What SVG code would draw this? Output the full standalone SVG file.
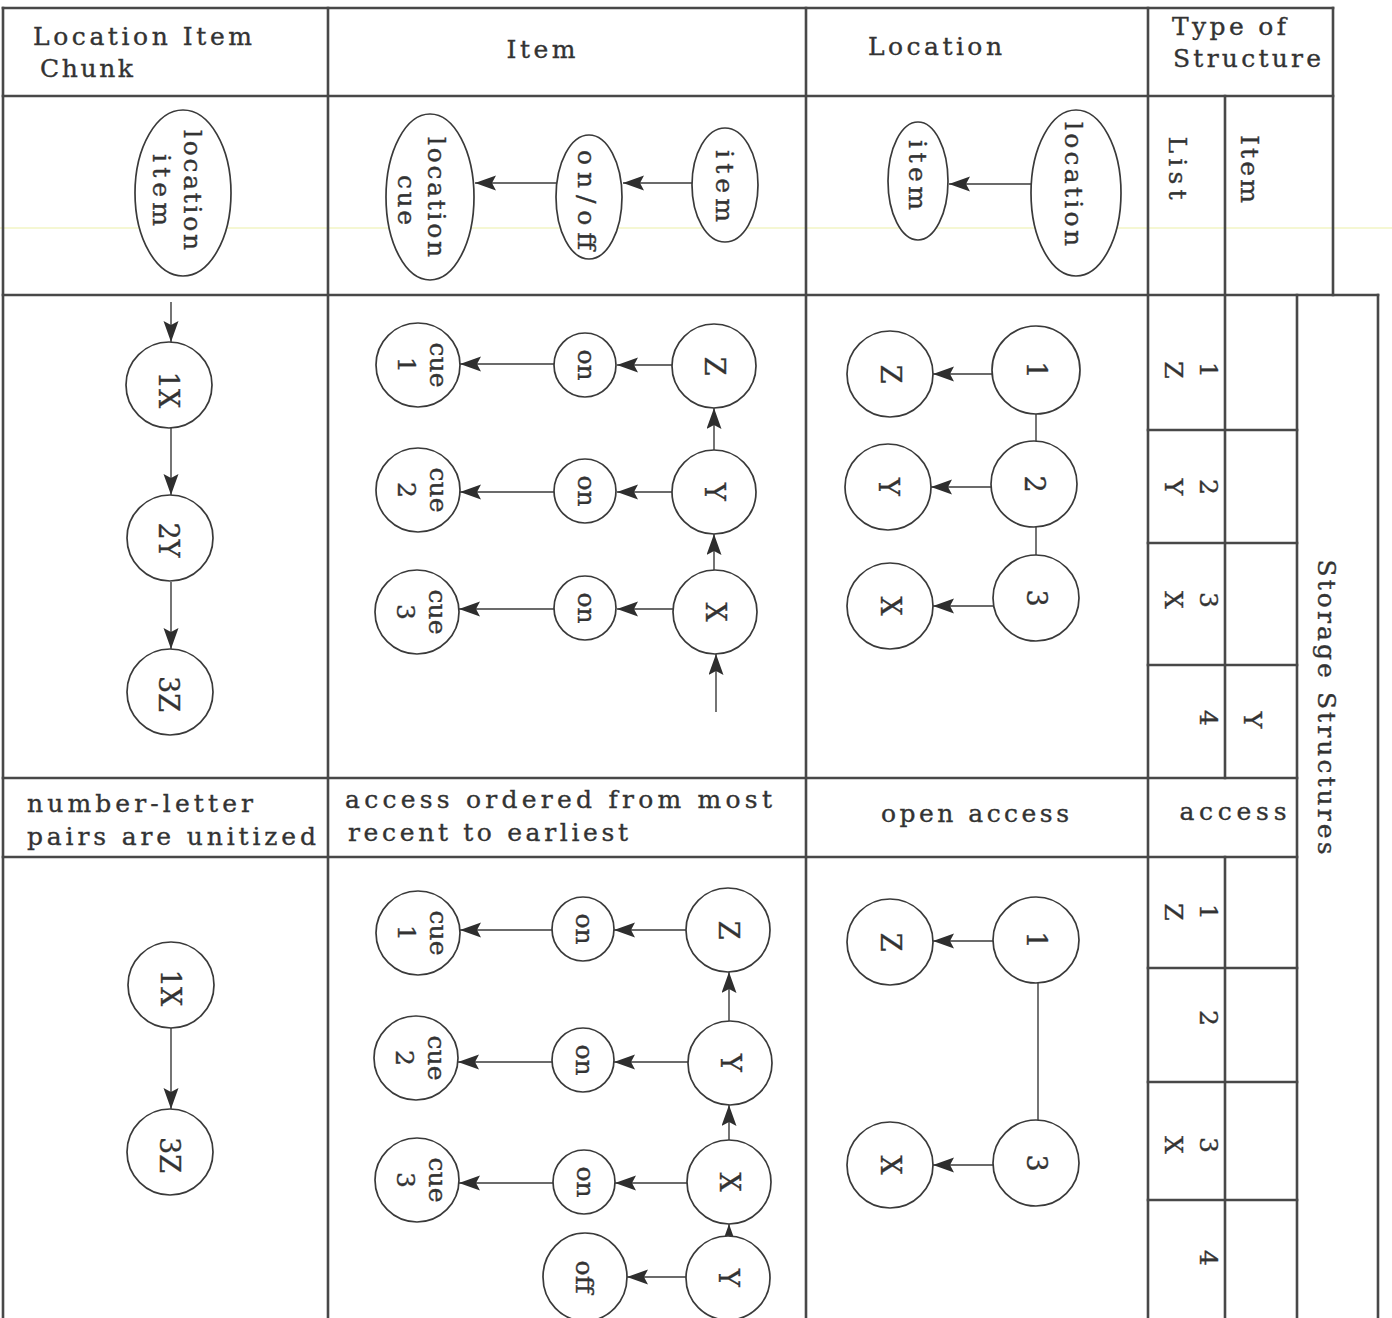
<svg xmlns="http://www.w3.org/2000/svg" width="1392" height="1318" viewBox="0 0 1392 1318">
<style>
.g{stroke:#484848;stroke-width:2.6;fill:none;stroke-linecap:square}
.n{stroke:#3a3a3a;stroke-width:1.7;fill:#fff}
.c{stroke:#3a3a3a;stroke-width:1.4;fill:none}
.a{marker-end:url(#ah)}
text{font-family:"DejaVu Serif","Liberation Serif",serif;font-size:25px;fill:#333;stroke:#333;stroke-width:0.35}
.m{text-anchor:middle}
.b{font-size:27px}
</style>
<defs>
<marker id="ah" markerUnits="userSpaceOnUse" markerWidth="22" markerHeight="16" refX="21" refY="7.5" orient="auto">
<path d="M0,0 L21,7.5 L0,15 L4,7.5 z" fill="#2e2e2e"/>
</marker>
</defs>
<rect width="1392" height="1318" fill="#fff"/>
<line x1="0" y1="228" x2="1392" y2="228" stroke="#f2f4c4" stroke-width="1.5"/>

<g id="grid">
<line class="g" x1="3" y1="8" x2="1333" y2="8"/>
<line class="g" x1="3" y1="96" x2="1333" y2="96"/>
<line class="g" x1="3" y1="295" x2="1378" y2="295"/>
<line class="g" x1="3" y1="778" x2="1297" y2="778"/>
<line class="g" x1="3" y1="857" x2="1297" y2="857"/>
<line class="g" x1="1148" y1="430" x2="1297" y2="430"/>
<line class="g" x1="1148" y1="543" x2="1297" y2="543"/>
<line class="g" x1="1148" y1="665" x2="1297" y2="665"/>
<line class="g" x1="1148" y1="968" x2="1297" y2="968"/>
<line class="g" x1="1148" y1="1082" x2="1297" y2="1082"/>
<line class="g" x1="1148" y1="1200" x2="1297" y2="1200"/>
<line class="g" x1="3" y1="8" x2="3" y2="1318"/>
<line class="g" x1="328" y1="8" x2="328" y2="1318"/>
<line class="g" x1="806" y1="8" x2="806" y2="1318"/>
<line class="g" x1="1148" y1="8" x2="1148" y2="1318"/>
<line class="g" x1="1225" y1="96" x2="1225" y2="778"/>
<line class="g" x1="1225" y1="857" x2="1225" y2="1318"/>
<line class="g" x1="1333" y1="8" x2="1333" y2="295"/>
<line class="g" x1="1297" y1="295" x2="1297" y2="1318"/>
<line class="g" x1="1378" y1="295" x2="1378" y2="1318"/>
</g>

<g id="labels">
<text x="33" y="45" textLength="219" lengthAdjust="spacing">Location Item</text>
<text x="40" y="77" textLength="93" lengthAdjust="spacing">Chunk</text>
<text x="541" y="58" class="m" textLength="69" lengthAdjust="spacing">Item</text>
<text x="935" y="55" class="m" textLength="134" lengthAdjust="spacing">Location</text>
<text x="1172" y="35" textLength="114" lengthAdjust="spacing">Type of</text>
<text x="1173" y="67" textLength="148" lengthAdjust="spacing">Structure</text>
<text transform="translate(1169,168) rotate(90)" class="m" textLength="63" lengthAdjust="spacing">List</text>
<text transform="translate(1241,169) rotate(90)" class="m" textLength="68" lengthAdjust="spacing">Item</text>
<text x="27" y="812" textLength="226" lengthAdjust="spacing">number-letter</text>
<text x="27" y="845" textLength="289" lengthAdjust="spacing">pairs are unitized</text>
<text x="345" y="808" textLength="427" lengthAdjust="spacing">access ordered from most</text>
<text x="348" y="841" textLength="280" lengthAdjust="spacing">recent to earliest</text>
<text x="975" y="822" class="m" textLength="188" lengthAdjust="spacing">open access</text>
<text x="1233" y="820" class="m" textLength="107" lengthAdjust="spacing">access</text>
<text transform="translate(1318,707) rotate(90)" class="m" textLength="295" lengthAdjust="spacing">Storage Structures</text>
<text transform="translate(1200,370) rotate(90)" class="m">1</text>
<text transform="translate(1165,370) rotate(90)" class="m">Z</text>
<text transform="translate(1200,487) rotate(90)" class="m">2</text>
<text transform="translate(1165,487) rotate(90)" class="m">Y</text>
<text transform="translate(1200,600) rotate(90)" class="m">3</text>
<text transform="translate(1165,600) rotate(90)" class="m">X</text>
<text transform="translate(1200,718) rotate(90)" class="m">4</text>
<text transform="translate(1244,720) rotate(90)" class="m">Y</text>
<text transform="translate(1200,912) rotate(90)" class="m">1</text>
<text transform="translate(1165,912) rotate(90)" class="m">Z</text>
<text transform="translate(1200,1018) rotate(90)" class="m">2</text>
<text transform="translate(1200,1145) rotate(90)" class="m">3</text>
<text transform="translate(1165,1145) rotate(90)" class="m">X</text>
<text transform="translate(1200,1258) rotate(90)" class="m">4</text>
</g>

<g id="connectors">
<line class="c a" x1="692" y1="183" x2="623" y2="183"/>
<line class="c a" x1="556" y1="183" x2="475" y2="183"/>
<line class="c a" x1="1031" y1="184" x2="949" y2="184"/>
<line class="c a" x1="171" y1="302" x2="171" y2="342"/>
<line class="c a" x1="171" y1="428" x2="171" y2="495"/>
<line class="c a" x1="171" y1="582" x2="171" y2="649"/>
<line class="c a" x1="672" y1="365" x2="617" y2="365"/>
<line class="c a" x1="554" y1="364" x2="460" y2="364"/>
<line class="c a" x1="672" y1="492" x2="617" y2="492"/>
<line class="c a" x1="554" y1="492" x2="460" y2="492"/>
<line class="c a" x1="673" y1="609" x2="617" y2="609"/>
<line class="c a" x1="554" y1="609" x2="459" y2="609"/>
<line class="c a" x1="714" y1="450" x2="714" y2="408"/>
<line class="c a" x1="714" y1="570" x2="714" y2="534"/>
<line class="c a" x1="716" y1="712" x2="716" y2="654"/>
<line class="c a" x1="992" y1="374" x2="933" y2="374"/>
<line class="c a" x1="991" y1="487" x2="931" y2="487"/>
<line class="c a" x1="993" y1="606" x2="933" y2="606"/>
<line class="c" x1="1036" y1="414" x2="1036" y2="441"/>
<line class="c" x1="1036" y1="527" x2="1036" y2="555"/>
<line class="c a" x1="171" y1="1028" x2="171" y2="1109"/>
<line class="c a" x1="686" y1="930" x2="614" y2="930"/>
<line class="c a" x1="552" y1="930" x2="460" y2="930"/>
<line class="c a" x1="688" y1="1062" x2="614" y2="1062"/>
<line class="c a" x1="552" y1="1062" x2="458" y2="1062"/>
<line class="c a" x1="687" y1="1183" x2="615" y2="1183"/>
<line class="c a" x1="553" y1="1183" x2="459" y2="1183"/>
<line class="c a" x1="686" y1="1277" x2="627" y2="1277"/>
<line class="c a" x1="729" y1="1021" x2="729" y2="972"/>
<line class="c a" x1="729" y1="1140" x2="729" y2="1105"/>
<line class="c a" x1="729" y1="1240" x2="729" y2="1224"/>
<line class="c a" x1="993" y1="941" x2="933" y2="941"/>
<line class="c a" x1="993" y1="1165" x2="933" y2="1165"/>
<line class="c" x1="1038" y1="983" x2="1038" y2="1120"/>
</g>

<g id="n-location-item"><ellipse class="n" cx="183" cy="193" rx="48" ry="83"/>
<text transform="translate(184,190) rotate(90)" class="m" textLength="120" lengthAdjust="spacing">location</text>
<text transform="translate(153,190) rotate(90)" class="m" textLength="72" lengthAdjust="spacing">item</text></g>
<g id="n-location-cue"><ellipse class="n" cx="430" cy="197" rx="44" ry="83"/>
<text transform="translate(428,197) rotate(90)" class="m" textLength="120" lengthAdjust="spacing">location</text>
<text transform="translate(398,200) rotate(90)" class="m" textLength="50" lengthAdjust="spacing">cue</text></g>
<g id="n-onoff"><ellipse class="n" cx="589" cy="197" rx="33" ry="62"/>
<text transform="translate(578,200) rotate(90)" class="m" textLength="100" lengthAdjust="spacing">on/off</text></g>
<g id="n-item"><ellipse class="n" cx="725" cy="185" rx="33" ry="57"/>
<text transform="translate(716,186) rotate(90)" class="m" textLength="72" lengthAdjust="spacing">item</text></g>
<g id="n-loc-item"><ellipse class="n" cx="918" cy="181" rx="30" ry="59"/>
<text transform="translate(909,175) rotate(90)" class="m" textLength="70" lengthAdjust="spacing">item</text></g>
<g id="n-loc-location"><ellipse class="n" cx="1076" cy="193" rx="45" ry="83"/>
<text transform="translate(1065,184) rotate(90)" class="m" textLength="124" lengthAdjust="spacing">location</text></g>

<g id="n-1X-a"><circle class="n" cx="169" cy="385" r="43"/><text class="m b" transform="translate(159,390) rotate(90)">1X</text></g>
<g id="n-2Y-a"><circle class="n" cx="170" cy="538" r="43"/><text class="m b" transform="translate(159,540) rotate(90)">2Y</text></g>
<g id="n-3Z-a"><circle class="n" cx="170" cy="692" r="43"/><text class="m b" transform="translate(159,694) rotate(90)">3Z</text></g>

<g id="n-cue1-a"><circle class="n" cx="418" cy="365" r="42"/><text class="m" transform="translate(430,365) rotate(90)">cue</text><text class="m" transform="translate(398,365) rotate(90)">1</text></g>
<g id="n-on1-a"><ellipse class="n" cx="585" cy="365" rx="31" ry="32"/><text class="m" transform="translate(578,365) rotate(90)">on</text></g>
<g id="n-Z-a"><circle class="n" cx="714" cy="366" r="42"/><text class="m b" transform="translate(705,366) rotate(90)">Z</text></g>
<g id="n-cue2-a"><circle class="n" cx="418" cy="490" r="42"/><text class="m" transform="translate(430,490) rotate(90)">cue</text><text class="m" transform="translate(398,490) rotate(90)">2</text></g>
<g id="n-on2-a"><ellipse class="n" cx="585" cy="491" rx="31" ry="32"/><text class="m" transform="translate(578,491) rotate(90)">on</text></g>
<g id="n-Y-a"><circle class="n" cx="714" cy="492" r="42"/><text class="m b" transform="translate(705,492) rotate(90)">Y</text></g>
<g id="n-cue3-a"><circle class="n" cx="417" cy="612" r="42"/><text class="m" transform="translate(429,612) rotate(90)">cue</text><text class="m" transform="translate(397,612) rotate(90)">3</text></g>
<g id="n-on3-a"><ellipse class="n" cx="585" cy="608" rx="31" ry="32"/><text class="m" transform="translate(578,608) rotate(90)">on</text></g>
<g id="n-X-a"><circle class="n" cx="715" cy="612" r="42"/><text class="m b" transform="translate(706,612) rotate(90)">X</text></g>

<g id="n-lZ-a"><circle class="n" cx="890" cy="374" r="43"/><text class="m b" transform="translate(881,374) rotate(90)">Z</text></g>
<g id="n-l1-a"><circle class="n" cx="1036" cy="370" r="44"/><text class="m b" transform="translate(1027,370) rotate(90)">1</text></g>
<g id="n-lY-a"><circle class="n" cx="888" cy="487" r="43"/><text class="m b" transform="translate(879,487) rotate(90)">Y</text></g>
<g id="n-l2-a"><circle class="n" cx="1034" cy="484" r="43"/><text class="m b" transform="translate(1025,484) rotate(90)">2</text></g>
<g id="n-lX-a"><circle class="n" cx="890" cy="606" r="43"/><text class="m b" transform="translate(881,606) rotate(90)">X</text></g>
<g id="n-l3-a"><circle class="n" cx="1036" cy="598" r="43"/><text class="m b" transform="translate(1027,598) rotate(90)">3</text></g>

<g id="n-1X-b"><circle class="n" cx="171" cy="985" r="43"/><text class="m b" transform="translate(161,988) rotate(90)">1X</text></g>
<g id="n-3Z-b"><circle class="n" cx="170" cy="1152" r="43"/><text class="m b" transform="translate(160,1155) rotate(90)">3Z</text></g>

<g id="n-cue1-b"><circle class="n" cx="418" cy="933" r="42"/><text class="m" transform="translate(430,933) rotate(90)">cue</text><text class="m" transform="translate(398,933) rotate(90)">1</text></g>
<g id="n-on1-b"><ellipse class="n" cx="583" cy="929" rx="31" ry="32"/><text class="m" transform="translate(576,929) rotate(90)">on</text></g>
<g id="n-Z-b"><circle class="n" cx="728" cy="930" r="42"/><text class="m b" transform="translate(719,930) rotate(90)">Z</text></g>
<g id="n-cue2-b"><circle class="n" cx="416" cy="1058" r="42"/><text class="m" transform="translate(428,1058) rotate(90)">cue</text><text class="m" transform="translate(396,1058) rotate(90)">2</text></g>
<g id="n-on2-b"><ellipse class="n" cx="583" cy="1060" rx="31" ry="32"/><text class="m" transform="translate(576,1060) rotate(90)">on</text></g>
<g id="n-Y-b"><circle class="n" cx="730" cy="1063" r="42"/><text class="m b" transform="translate(721,1063) rotate(90)">Y</text></g>
<g id="n-cue3-b"><circle class="n" cx="417" cy="1180" r="42"/><text class="m" transform="translate(429,1180) rotate(90)">cue</text><text class="m" transform="translate(397,1180) rotate(90)">3</text></g>
<g id="n-on3-b"><ellipse class="n" cx="584" cy="1182" rx="31" ry="32"/><text class="m" transform="translate(577,1182) rotate(90)">on</text></g>
<g id="n-X-b"><circle class="n" cx="729" cy="1182" r="42"/><text class="m b" transform="translate(720,1182) rotate(90)">X</text></g>
<g id="n-off-b"><ellipse class="n" cx="585" cy="1277" rx="42" ry="44"/><text class="m" transform="translate(576,1277) rotate(90)">off</text></g>
<g id="n-Y2-b"><circle class="n" cx="728" cy="1278" r="42"/><text class="m b" transform="translate(719,1278) rotate(90)">Y</text></g>

<g id="n-lZ-b"><circle class="n" cx="890" cy="942" r="43"/><text class="m b" transform="translate(881,942) rotate(90)">Z</text></g>
<g id="n-l1-b"><circle class="n" cx="1036" cy="940" r="43"/><text class="m b" transform="translate(1027,940) rotate(90)">1</text></g>
<g id="n-lX-b"><circle class="n" cx="890" cy="1165" r="43"/><text class="m b" transform="translate(881,1165) rotate(90)">X</text></g>
<g id="n-l3-b"><circle class="n" cx="1036" cy="1163" r="43"/><text class="m b" transform="translate(1027,1163) rotate(90)">3</text></g>
</svg>
